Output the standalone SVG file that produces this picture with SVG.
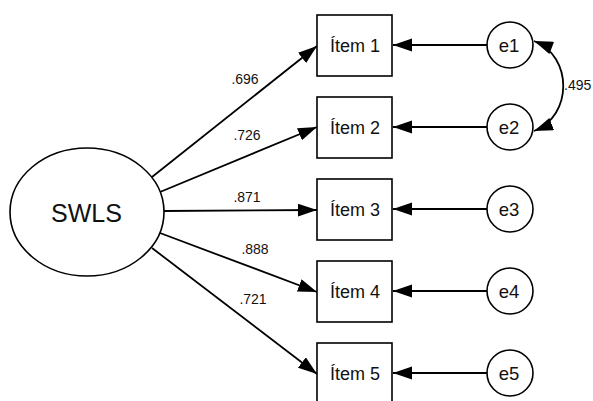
<svg xmlns="http://www.w3.org/2000/svg" width="593" height="401" viewBox="0 0 593 401">
<style>
.sh{fill:#fff;stroke:#000;stroke-width:1.6}
.t{font-family:"Liberation Sans",Arial,sans-serif;fill:#111;text-anchor:middle}
.it{font-size:18px}
.et{font-size:18.5px}
.lb{font-size:14px}
.st{text-anchor:start}
.cn{fill:none;stroke:#000;stroke-width:1.8}
</style>
<defs>
<marker id="ah" markerUnits="userSpaceOnUse" markerWidth="20" markerHeight="14" refX="19" refY="6.5" orient="auto">
<path d="M0,0 L19,6.5 L0,13 Z" fill="#000"/>
</marker>
<marker id="ahs" markerUnits="userSpaceOnUse" markerWidth="20" markerHeight="14" refX="0" refY="6.5" orient="auto">
<path d="M19,0 L0,6.5 L19,13 Z" fill="#000"/>
</marker>
</defs>
<rect width="593" height="401" fill="#fff"/>
<g id="connectors">
<line class="cn" x1="152" y1="177" x2="317" y2="46" marker-end="url(#ah)"/>
<line class="cn" x1="160" y1="192" x2="317" y2="127" marker-end="url(#ah)"/>
<line class="cn" x1="163" y1="211" x2="317" y2="210" marker-end="url(#ah)"/>
<line class="cn" x1="160" y1="233" x2="317" y2="292" marker-end="url(#ah)"/>
<line class="cn" x1="152" y1="248" x2="317" y2="374" marker-end="url(#ah)"/>
<line class="cn" x1="487" y1="45" x2="393" y2="45" marker-end="url(#ah)"/>
<line class="cn" x1="487" y1="127" x2="393" y2="127" marker-end="url(#ah)"/>
<line class="cn" x1="487" y1="209" x2="393" y2="209" marker-end="url(#ah)"/>
<line class="cn" x1="487" y1="291" x2="393" y2="291" marker-end="url(#ah)"/>
<line class="cn" x1="487" y1="373" x2="393" y2="373" marker-end="url(#ah)"/>
<path class="cn" d="M534,41 C573,56 573,116 534,131" marker-start="url(#ahs)" marker-end="url(#ah)"/>
<text class="t lb" x="245" y="84">.696</text>
<text class="t lb" x="247" y="140">.726</text>
<text class="t lb" x="247" y="202">.871</text>
<text class="t lb" x="255" y="254">.888</text>
<text class="t lb" x="253" y="304">.721</text>
<text class="t lb st" x="564" y="90">.495</text>
</g>
<g id="SWLS">
<ellipse class="sh" cx="87" cy="212" rx="77" ry="64"/>
<text class="t" x="86.5" y="222" font-size="25">SWLS</text>
</g>
<g id="item1"><rect class="sh" x="317" y="15" width="75" height="61"/><text class="t it" x="355" y="52">Ítem 1</text></g>
<g id="item2"><rect class="sh" x="317" y="97" width="75" height="61"/><text class="t it" x="355" y="134">Ítem 2</text></g>
<g id="item3"><rect class="sh" x="317" y="179" width="75" height="61"/><text class="t it" x="355" y="216">Ítem 3</text></g>
<g id="item4"><rect class="sh" x="317" y="261" width="75" height="61"/><text class="t it" x="355" y="298">Ítem 4</text></g>
<g id="item5"><rect class="sh" x="317" y="343" width="75" height="61"/><text class="t it" x="355" y="380">Ítem 5</text></g>
<g id="e1"><ellipse class="sh" cx="510" cy="45" rx="23" ry="23"/><text class="t et" x="509" y="52">e1</text></g>
<g id="e2"><ellipse class="sh" cx="510" cy="127" rx="23" ry="23"/><text class="t et" x="509" y="134">e2</text></g>
<g id="e3"><ellipse class="sh" cx="510" cy="209" rx="23" ry="23"/><text class="t et" x="509" y="216">e3</text></g>
<g id="e4"><ellipse class="sh" cx="510" cy="291" rx="23" ry="23"/><text class="t et" x="509" y="298">e4</text></g>
<g id="e5"><ellipse class="sh" cx="510" cy="373" rx="23" ry="23"/><text class="t et" x="509" y="380">e5</text></g>
</svg>
